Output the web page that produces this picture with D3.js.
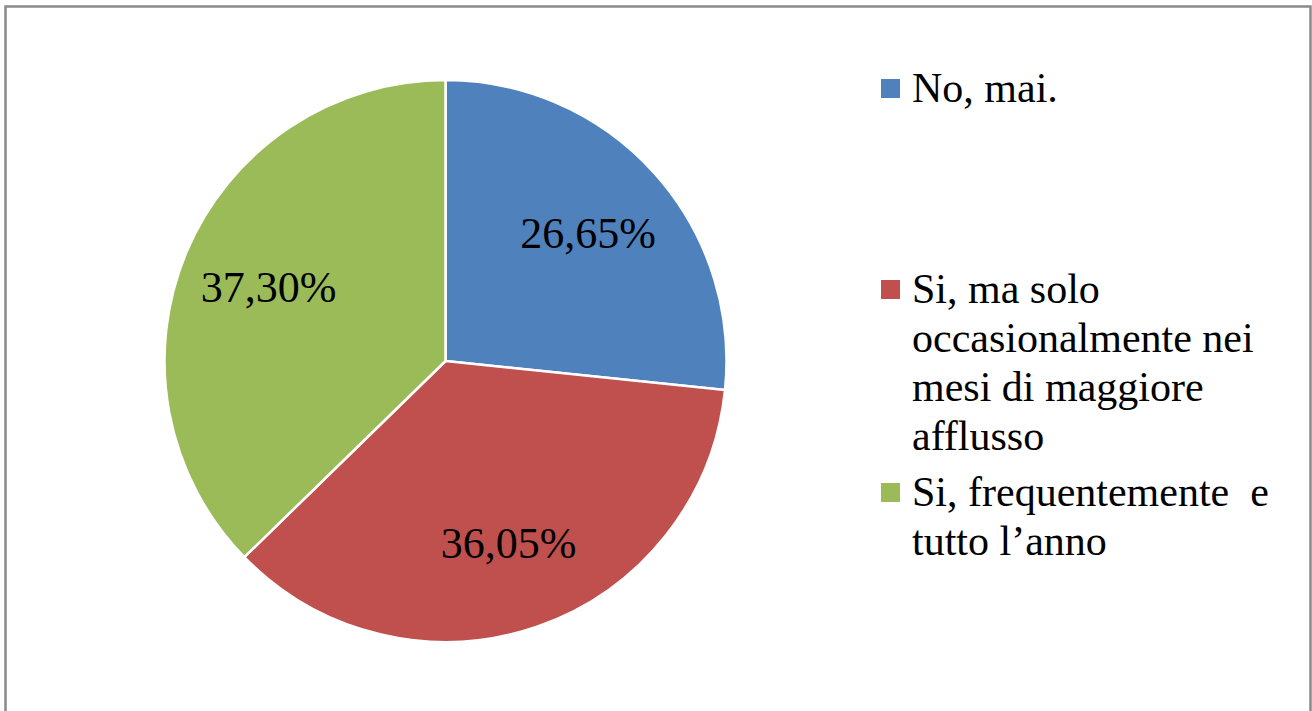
<!DOCTYPE html>
<html>
<head>
<meta charset="utf-8">
<title>Pie</title>
<script src="https://d3js.org/d3.v7.min.js"></script>
<style>
  body { margin: 0; background: #fff; }
  svg { display: block; }
</style>
</head>
<body>
<div id="chart"></div>
<script>
// data
var categories = ["No, mai.", "Si, ma solo occasionalmente nei mesi di maggiore afflusso", "Si, frequentemente  e tutto l\u2019anno"];
var values = [26.65, 36.05, 37.30];
var labels = ["26,65%", "36,05%", "37,30%"];
var legendLines = [
  ["No, mai."],
  ["Si, ma solo", "occasionalmente nei", "mesi di maggiore", "afflusso"],
  ["Si, frequentemente\u00a0 e", "tutto l\u2019anno"]
];
var colors = ["#4F81BD", "#C0504D", "#9BBB59"];

var width = 1312, height = 711;
var cx = 445.5, cy = 361, radius = 281;
var serif = "'Liberation Serif'";

var svg = d3.select("#chart").append("svg")
  .attr("width", width)
  .attr("height", height);

// chart frame
svg.append("rect")
  .attr("x", 5.5).attr("y", 6.5)
  .attr("width", 1305).attr("height", 740)
  .attr("fill", "none")
  .attr("stroke", "#8a8a8a")
  .attr("stroke-width", 2.5);

var color = d3.scaleOrdinal().domain(categories).range(colors);

var pie = d3.pie().sort(null).value(function(d) { return d; });
var arcs = pie(values);

var arc = d3.arc().innerRadius(0).outerRadius(radius);
var labelArc = d3.arc().innerRadius(192).outerRadius(192);

var g = svg.append("g").attr("transform", "translate(" + cx + "," + cy + ")");

g.selectAll("path.slice").data(arcs).enter().append("path")
  .attr("class", "slice")
  .attr("d", arc)
  .attr("fill", function(d, i) { return color(categories[i]); })
  .attr("stroke", "#fff")
  .attr("stroke-width", 2.5)
  .attr("stroke-linejoin", "round");

g.selectAll("text.lbl").data(arcs).enter().append("text")
  .attr("class", "lbl")
  .attr("transform", function(d) { return "translate(" + labelArc.centroid(d) + ")"; })
  .attr("text-anchor", "middle")
  .attr("dy", "0.35em")
  .style("font-family", serif)
  .style("font-size", "44px")
  .style("fill", "#000")
  .text(function(d, i) { return labels[i]; });

// legend
var legendX = 881, textX = 912, lineH = 49;
var firstBaselines = [102, 303, 506];

var leg = svg.selectAll("g.leg").data(categories).enter().append("g").attr("class", "leg");

leg.append("rect")
  .attr("x", legendX)
  .attr("y", function(d, i) { return firstBaselines[i] - 23; })
  .attr("width", 19).attr("height", 19)
  .attr("fill", function(d) { return color(d); });

leg.append("text")
  .attr("x", textX)
  .attr("y", function(d, i) { return firstBaselines[i]; })
  .style("font-family", serif)
  .style("font-size", "42px")
  .style("fill", "#000")
  .selectAll("tspan")
  .data(function(d, i) { return legendLines[i]; })
  .enter().append("tspan")
  .attr("x", textX)
  .attr("dy", function(d, j) { return j === 0 ? 0 : lineH; })
  .text(function(d) { return d; });
</script>
</body>
</html>
